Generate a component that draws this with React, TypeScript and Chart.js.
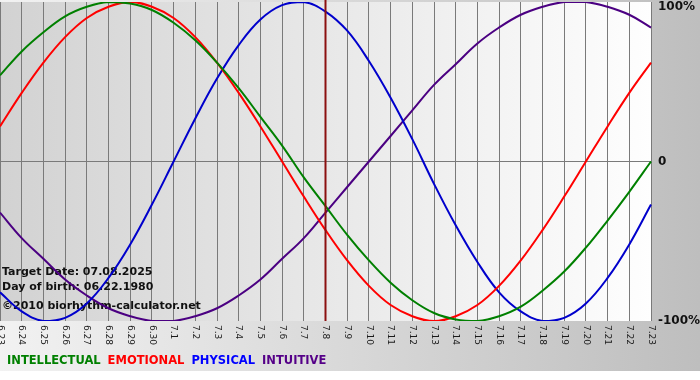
import React, { useEffect, useRef } from "react";
import { Chart, registerables } from "chart.js";

Chart.register(...registerables);

const dates = [
  "6.23", "6.24", "6.25", "6.26", "6.27", "6.28", "6.29", "6.30",
  "7.1", "7.2", "7.3", "7.4", "7.5", "7.6", "7.7", "7.8", "7.9", "7.10",
  "7.11", "7.12", "7.13", "7.14", "7.15", "7.16", "7.17", "7.18", "7.19",
  "7.20", "7.21", "7.22", "7.23",
];

const intellectual = [
  54, 69, 81, 91, 97, 100, 99, 95, 87, 76, 62, 46, 28, 10, -10, -28, -46,
  -62, -76, -87, -95, -99, -100, -97, -91, -81, -69, -54, -37, -19, 0,
];
const emotional = [
  22, 43, 62, 78, 90, 97, 100, 97, 90, 78, 62, 43, 22, 0, -22, -43, -62,
  -78, -90, -97, -100, -97, -90, -78, -62, -43, -22, 0, 22, 43, 62,
];
const physical = [
  -82, -94, -100, -98, -89, -73, -52, -27, 0, 27, 52, 73, 89, 98, 100, 94,
  82, 63, 40, 14, -14, -40, -63, -82, -94, -100, -98, -89, -73, -52, -27,
];
const intuitive = [
  -32, -48, -61, -74, -84, -92, -97, -100, -100, -97, -92, -84, -74, -61,
  -48, -32, -16, 0, 16, 32, 48, 61, 74, 84, 92, 97, 100, 100, 97, 92, 84,
];

const seriesNames = ["INTELLECTUAL", "EMOTIONAL", "PHYSICAL", "INTUITIVE"];
const lineColors = ["#008000", "#ff0000", "#0000cc", "#4b0082"];
const legendColors = ["#008000", "#ff0000", "#0000ff", "#550088"];

const targetDate = "7.8";
const yTickValues = [100, 0, -100];
const yTickLabels = ["100%", "0", "-100%"];
const infoLines = [
  "Target Date: 07.08.2025",
  "Day of birth: 06.22.1980",
  "\u00A92010 biorhythm-calculator.net",
];

const decorPlugin = {
  id: "decor",
  beforeDraw(chart: any) {
    const { ctx, chartArea, width, height } = chart;
    ctx.save();
    ctx.fillStyle = "#ffffff";
    ctx.fillRect(0, 0, width, height);
    const g = ctx.createLinearGradient(0, 0, width, 0);
    g.addColorStop(0, "#f2f2f2");
    g.addColorStop(1, "#bebebe");
    ctx.fillStyle = g;
    ctx.fillRect(0, 0, width, 371);
    const pg = ctx.createLinearGradient(chartArea.left, 0, chartArea.right, 0);
    pg.addColorStop(0, "#d2d2d2");
    pg.addColorStop(1, "#fefefe");
    ctx.fillStyle = pg;
    ctx.fillRect(
      chartArea.left,
      chartArea.top,
      chartArea.right - chartArea.left,
      chartArea.bottom - chartArea.top
    );
    ctx.restore();
  },
  beforeDatasetsDraw(chart: any) {
    const { ctx } = chart;
    ctx.save();
    ctx.fillStyle = "#111111";
    ctx.font = "bold 11px 'DejaVu Sans'";
    ctx.textBaseline = "middle";
    ctx.textAlign = "left";
    ctx.fillText(infoLines[0], 2, 272);
    ctx.fillText(infoLines[1], 2, 287);
    ctx.fillText(infoLines[2], 2, 306);
    ctx.restore();
  },
  afterDatasetsDraw(chart: any) {
    const { ctx, chartArea, scales } = chart;
    const x = scales.x;
    const y = scales.y;
    ctx.save();
    // target date line
    const tx = x.getPixelForValue(dates.indexOf(targetDate));
    ctx.strokeStyle = "#8b1010";
    ctx.lineWidth = 2;
    ctx.beginPath();
    ctx.moveTo(tx, chartArea.top - 2);
    ctx.lineTo(tx, chartArea.bottom);
    ctx.stroke();

    // x tick labels, rotated clockwise
    ctx.fillStyle = "#1a1a1a";
    ctx.font = "9px 'DejaVu Sans'";
    ctx.textAlign = "left";
    ctx.textBaseline = "middle";
    dates.forEach((d, i) => {
      const px = x.getPixelForValue(i);
      ctx.save();
      ctx.translate(px, chartArea.bottom + 4);
      ctx.rotate(Math.PI / 2);
      ctx.fillText(d, 0, 0);
      ctx.restore();
    });

    // y tick labels on the right
    ctx.fillStyle = "#111111";
    ctx.font = "bold 12px 'DejaVu Sans'";
    yTickValues.forEach((v, i) => {
      let py = y.getPixelForValue(v);
      if (py < 7) py = 7;
      ctx.fillText(yTickLabels[i], chartArea.right + 7, py);
    });

    // legend
    ctx.font = "bold 11.5px 'DejaVu Sans'";
    let lx = 7;
    seriesNames.forEach((n, i) => {
      ctx.fillStyle = legendColors[i];
      ctx.fillText(n, lx, 361);
      lx += ctx.measureText(n).width + 7;
    });
    ctx.restore();
  },
};

export default function App() {
  const ref = useRef<HTMLCanvasElement>(null);
  useEffect(() => {
    if (!ref.current) return;
    const data = [intellectual, emotional, physical, intuitive];
    const chart = new Chart(ref.current, {
      type: "line",
      data: {
        labels: dates,
        datasets: data.map((d, i) => ({
          label: seriesNames[i],
          data: d,
          borderColor: lineColors[i],
          borderWidth: 2,
          pointRadius: 0,
          tension: 0.4,
          fill: false,
        })),
      },
      options: {
        animation: false,
        responsive: false,
        devicePixelRatio: 1,
        layout: { padding: { left: 0, right: 49, top: 2, bottom: 59 } },
        plugins: {
          legend: { display: false },
          tooltip: { enabled: false },
        },
        scales: {
          x: {
            type: "category",
            offset: false,
            grid: { color: "#7a7a7a", lineWidth: 1, drawTicks: false },
            border: { display: false },
            ticks: { display: false },
            afterFit: (s: any) => {
              s.height = 0;
            },
          },
          y: {
            min: -100,
            max: 100,
            position: "right",
            grid: {
              drawTicks: false,
              color: (c: any) =>
                c.tick && c.tick.value === 0 ? "#7a7a7a" : "rgba(0,0,0,0)",
            },
            border: { display: false },
            ticks: { display: false, stepSize: 100 },
            afterFit: (s: any) => {
              s.width = 0;
            },
          },
        },
      },
      plugins: [decorPlugin],
    });
    return () => chart.destroy();
  }, []);
  return (
    <div style={{ position: "absolute", left: 0, top: 0, width: 700, height: 380 }}>
      <canvas ref={ref} width={700} height={380} style={{ width: 700, height: 380 }} />
    </div>
  );
}
